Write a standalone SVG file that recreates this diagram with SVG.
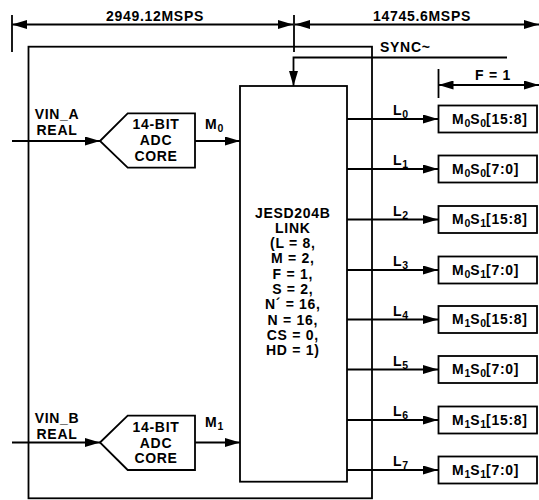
<svg xmlns="http://www.w3.org/2000/svg" width="539" height="500" viewBox="0 0 539 500">
<style>
  text { font-family: "Liberation Sans", Arial, sans-serif; font-weight: bold; font-size: 14px; letter-spacing: 0.7px; fill: #000; }
  .mid { text-anchor: middle; }
  .sub { font-size: 10.5px; letter-spacing: 0; }
  .ln { stroke: #000; stroke-width: 1.8; fill: none; }
  .box { stroke: #000; stroke-width: 1.8; fill: #fff; }
  .arr { stroke: #000; stroke-width: 1.8; fill: none; marker-end: url(#ah); }
  .darr { stroke: #000; stroke-width: 1.8; fill: none; marker-end: url(#ah); marker-start: url(#ah); }
</style>
<defs>
  <marker id="ah" markerUnits="userSpaceOnUse" markerWidth="16" markerHeight="9" refX="15" refY="4.5" orient="auto-start-reverse">
    <path d="M0,0 L15,4.5 L0,9 z" fill="#000"/>
  </marker>
</defs>
<rect width="539" height="500" fill="#fff"/>

<g id="dimensions">
  <line class="ln" x1="12" y1="15" x2="12" y2="52"/>
  <line class="ln" x1="294" y1="15" x2="294" y2="52"/>
  <line class="darr" x1="12" y1="24.5" x2="293" y2="24.5"/>
  <line class="darr" x1="295" y1="24.5" x2="539" y2="24.5"/>
  <text class="mid" x="155" y="21">2949.12MSPS</text>
  <text class="mid" x="422" y="21">14745.6MSPS</text>
  <line class="ln" x1="438.5" y1="69" x2="438.5" y2="98"/>
  <line class="darr" x1="438.5" y1="85" x2="539" y2="85"/>
  <text class="mid" x="493" y="80">F = 1</text>
</g>

<g id="outer-box">
  <rect class="ln" x="28.5" y="46.7" width="343.5" height="451.6"/>
</g>

<g id="connectors">
  <polyline class="arr" points="507,57.5 293.5,57.5 293.5,86"/>
  <line class="arr" x1="12" y1="141" x2="100" y2="141"/>
  <line class="arr" x1="195" y1="141" x2="240" y2="141"/>
  <line class="arr" x1="12" y1="442.5" x2="100" y2="442.5"/>
  <line class="arr" x1="195" y1="442.5" x2="240" y2="442.5"/>
  <line class="arr" x1="347" y1="119" x2="438" y2="119"/>
  <line class="arr" x1="347" y1="169" x2="438" y2="169"/>
  <line class="arr" x1="347" y1="219.5" x2="438" y2="219.5"/>
  <line class="arr" x1="347" y1="270" x2="438" y2="270"/>
  <line class="arr" x1="347" y1="319.5" x2="438" y2="319.5"/>
  <line class="arr" x1="347" y1="369.5" x2="438" y2="369.5"/>
  <line class="arr" x1="347" y1="420" x2="438" y2="420"/>
  <line class="arr" x1="347" y1="470" x2="438" y2="470"/>
</g>

<g id="labels">
  <text x="380" y="52.3">SYNC~</text>
  <text class="mid" x="57" y="118.5">VIN_A</text>
  <text class="mid" x="57" y="135">REAL</text>
  <text class="mid" x="57" y="422.7">VIN_B</text>
  <text class="mid" x="57" y="439.3">REAL</text>
  <text x="205" y="129">M<tspan class="sub" dy="3">0</tspan></text>
  <text x="205" y="426.5">M<tspan class="sub" dy="3">1</tspan></text>
  <text x="393" y="115">L<tspan class="sub" dy="3">0</tspan></text>
  <text x="393" y="165">L<tspan class="sub" dy="3">1</tspan></text>
  <text x="393" y="215.5">L<tspan class="sub" dy="3">2</tspan></text>
  <text x="393" y="266">L<tspan class="sub" dy="3">3</tspan></text>
  <text x="393" y="315.5">L<tspan class="sub" dy="3">4</tspan></text>
  <text x="393" y="365.5">L<tspan class="sub" dy="3">5</tspan></text>
  <text x="393" y="416">L<tspan class="sub" dy="3">6</tspan></text>
  <text x="393" y="466">L<tspan class="sub" dy="3">7</tspan></text>
</g>

<g id="adc-a">
  <polygon class="box" points="100,141 127.7,113.3 195,113.3 195,167.7 127.7,167.7"/>
  <text class="mid" x="156" y="129.3">14-BIT</text>
  <text class="mid" x="156" y="145">ADC</text>
  <text class="mid" x="156" y="161">CORE</text>
</g>

<g id="adc-b">
  <polygon class="box" points="100,442.5 127.7,415.7 195,415.7 195,470 127.7,470"/>
  <text class="mid" x="156" y="432.3">14-BIT</text>
  <text class="mid" x="156" y="447.7">ADC</text>
  <text class="mid" x="156" y="463.3">CORE</text>
</g>

<g id="jesd204b-link">
  <rect class="box" x="240" y="86" width="107" height="395.7"/>
  <text class="mid" x="292.8" y="217.5">JESD204B</text>
  <text class="mid" x="292.8" y="232.8">LINK</text>
  <text class="mid" x="292.8" y="248.1">(L = 8,</text>
  <text class="mid" x="292.8" y="263.4">M = 2,</text>
  <text class="mid" x="292.8" y="278.7">F = 1,</text>
  <text class="mid" x="292.8" y="294">S = 2,</text>
  <text class="mid" x="292.8" y="309.3">N´ = 16,</text>
  <text class="mid" x="292.8" y="324.6">N = 16,</text>
  <text class="mid" x="292.8" y="339.9">CS = 0,</text>
  <text class="mid" x="292.8" y="355.2">HD = 1)</text>
</g>

<g id="out-l0">
  <rect class="box" x="438.5" y="105.5" width="98.5" height="27"/>
  <text x="452" y="123.5">M<tspan class="sub" dy="3">0</tspan><tspan dy="-3">S</tspan><tspan class="sub" dy="3">0</tspan><tspan dy="-3">[15:8]</tspan></text>
</g>
<g id="out-l1">
  <rect class="box" x="438.5" y="155.5" width="98.5" height="27"/>
  <text x="452" y="173.5">M<tspan class="sub" dy="3">0</tspan><tspan dy="-3">S</tspan><tspan class="sub" dy="3">0</tspan><tspan dy="-3">[7:0]</tspan></text>
</g>
<g id="out-l2">
  <rect class="box" x="438.5" y="206" width="98.5" height="27"/>
  <text x="452" y="224">M<tspan class="sub" dy="3">0</tspan><tspan dy="-3">S</tspan><tspan class="sub" dy="3">1</tspan><tspan dy="-3">[15:8]</tspan></text>
</g>
<g id="out-l3">
  <rect class="box" x="438.5" y="256.5" width="98.5" height="27"/>
  <text x="452" y="274.5">M<tspan class="sub" dy="3">0</tspan><tspan dy="-3">S</tspan><tspan class="sub" dy="3">1</tspan><tspan dy="-3">[7:0]</tspan></text>
</g>
<g id="out-l4">
  <rect class="box" x="438.5" y="306" width="98.5" height="27"/>
  <text x="452" y="324">M<tspan class="sub" dy="3">1</tspan><tspan dy="-3">S</tspan><tspan class="sub" dy="3">0</tspan><tspan dy="-3">[15:8]</tspan></text>
</g>
<g id="out-l5">
  <rect class="box" x="438.5" y="356" width="98.5" height="27"/>
  <text x="452" y="374">M<tspan class="sub" dy="3">1</tspan><tspan dy="-3">S</tspan><tspan class="sub" dy="3">0</tspan><tspan dy="-3">[7:0]</tspan></text>
</g>
<g id="out-l6">
  <rect class="box" x="438.5" y="406.5" width="98.5" height="27"/>
  <text x="452" y="424.5">M<tspan class="sub" dy="3">1</tspan><tspan dy="-3">S</tspan><tspan class="sub" dy="3">1</tspan><tspan dy="-3">[15:8]</tspan></text>
</g>
<g id="out-l7">
  <rect class="box" x="438.5" y="456.5" width="98.5" height="27"/>
  <text x="452" y="474.5">M<tspan class="sub" dy="3">1</tspan><tspan dy="-3">S</tspan><tspan class="sub" dy="3">1</tspan><tspan dy="-3">[7:0]</tspan></text>
</g>
</svg>
